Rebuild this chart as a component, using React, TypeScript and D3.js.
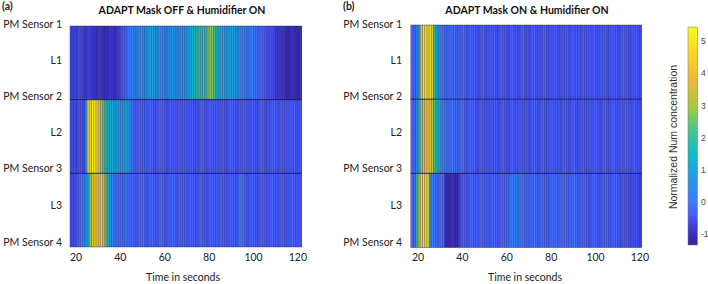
import React from "react";
import * as d3 from "d3";

const colorValues = [-1.35,-0.9,-0.4,0,0.5,1,1.6,2.3,3,3.8,4.5,5.5];
const colorStops = ["#35249a","#3c34c8","#4a5cff","#3c7cff","#2a8cf0","#1ca6e0","#14bcc0","#4cc685","#a8c93f","#eab935","#f8d028","#f9fb15"];
const layers = ["L1","L2","L3"];
const sensors = ["PM Sensor 1","PM Sensor 2","PM Sensor 3","PM Sensor 4"];
const xTicks = [20,40,60,80,100,120];
const cbTicks = [-1,0,1,2,3,4,5];
const firstSecond = 17;

const a1 = [-0.6,-0.7,-0.6,-0.7,-0.6,-0.7,-0.7,-0.8,-0.7,-0.8,-0.9,-0.8,-0.9,-0.9,-1.0,-1.0,-0.9,-1.0,-0.9,-0.9,-0.9,-0.8,-0.8,-0.6,-0.3,-0.2,0.0,0.1,0.4,0.3,0.5,0.6,0.8,0.6,0.9,1.0,0.9,1.0,0.9,0.7,0.8,0.6,0.6,0.5,0.7,0.6,0.7,0.9,0.7,0.6,0.7,0.8,0.9,1.0,1.1,1.4,1.7,1.9,2.0,1.9,2.1,2.0,2.7,2.9,2.7,2.2,1.6,1.3,1.2,1.1,1.0,1.1,1.0,0.9,0.9,0.8,0.7,0.5,0.5,0.3,0.2,0.1,0.1,0.0,-0.1,-0.2,-0.3,-0.4,-0.4,-0.5,-0.5,-0.6,-0.7,-0.8,-0.8,-0.9,-0.9,-1.0,-1.0,-1.1,-1.1,-1.1,-1.1,-1.1,-1.1];
const a2 = [-0.5,-0.6,-0.5,-0.6,-0.5,-0.5,-0.6,0.8,4.4,4.6,5.3,5.4,4.9,4.1,3.0,2.4,1.9,1.3,1.2,1.1,1.1,1.0,0.9,0.7,1.0,1.5,0.8,0.1,-0.2,-0.3,-0.2,-0.3,-0.4,-0.3,-0.2,-0.3,-0.3,-0.4,-0.5,-0.4,-0.3,-0.4,-0.3,-0.4,-0.5,-0.4,-0.5,-0.3,-0.4,-0.4,-0.5,-0.4,-0.3,-0.4,-0.5,-0.4,-0.5,-0.4,-0.5,-0.3,-0.4,-0.5,-0.4,-0.4,-0.5,-0.4,-0.3,-0.4,-0.5,-0.4,-0.5,-0.4,-0.3,-0.4,-0.4,-0.5,-0.4,-0.5,-0.4,-0.3,-0.4,-0.5,-0.4,-0.4,-0.5,-0.4,-0.3,-0.4,-0.5,-0.4,-0.5,-0.4,-0.3,-0.4,-0.5,-0.4,-0.5,-0.4,-0.3,-0.4,-0.5,-0.4,-0.5,-0.4,-0.4];
const a3 = [-0.5,-0.6,-0.5,-0.4,-0.3,0.0,0.5,0.9,1.0,2.8,4.3,4.6,4.4,4.2,4.6,3.8,2.4,1.4,0.5,0.2,0.0,-0.1,-0.2,-0.3,-0.2,0.3,-0.2,-0.3,-0.2,-0.3,-0.4,-0.3,-0.2,0.0,-0.3,-0.4,-0.3,-0.2,-0.3,-0.4,-0.3,-0.1,-0.3,-0.4,-0.3,-0.4,-0.3,-0.1,-0.4,-0.3,-0.4,-0.3,-0.2,-0.4,-0.3,-0.4,-0.3,-0.4,-0.3,-0.2,-0.4,-0.3,-0.4,-0.3,-0.4,-0.3,-0.2,-0.4,-0.3,-0.4,-0.3,-0.4,-0.3,-0.4,-0.3,-0.4,0.0,0.2,-0.1,-0.3,-0.4,-0.3,-0.4,-0.3,-0.4,-0.4,-0.3,-0.4,-0.3,-0.4,-0.4,-0.3,-0.4,-0.3,-0.4,-0.3,-0.4,-0.4,-0.3,-0.4,-0.3,-0.4,-0.4,-0.3,-0.4];
const b1 = [-0.4,-0.2,0.3,1.0,3.9,4.9,5.3,4.7,5.2,3.9,1.8,1.5,0.5,0.0,-0.1,-0.2,-0.1,-0.2,-0.3,-0.1,-0.3,-0.2,-0.4,-0.1,-0.3,-0.4,-0.2,-0.4,-0.3,-0.4,-0.5,-0.4,-0.3,-0.5,-0.4,-0.3,-0.5,-0.4,-0.5,-0.4,-0.3,-0.5,-0.4,-0.5,-0.4,-0.3,-0.5,-0.4,-0.5,-0.4,-0.3,-0.5,-0.4,-0.5,-0.4,-0.3,-0.5,-0.4,-0.5,-0.4,-0.3,-0.5,-0.4,-0.5,-0.4,-0.3,-0.5,-0.4,-0.5,-0.4,-0.3,-0.5,-0.4,-0.5,-0.4,-0.3,-0.5,-0.4,-0.5,-0.4,-0.3,-0.5,-0.4,-0.5,-0.4,-0.3,-0.5,-0.4,-0.5,-0.4,-0.3,-0.5,-0.4,-0.5,-0.4,-0.3,-0.5,-0.4,-0.5,-0.4,-0.5,-0.4,-0.5,-0.4,-0.5];
const b2 = [-0.4,-0.2,0.4,1.6,2.8,3.8,4.3,4.5,4.2,3.3,2.2,1.8,1.4,0.6,0.2,0.0,-0.1,-0.2,0.1,-0.2,-0.1,-0.3,-0.1,-0.2,-0.4,-0.3,-0.2,-0.4,-0.3,-0.5,-0.4,-0.3,-0.5,-0.4,-0.3,-0.4,-0.5,-0.4,-0.3,-0.5,-0.4,-0.3,-0.4,-0.5,-0.4,-0.3,-0.5,-0.4,-0.3,-0.4,-0.5,-0.4,-0.3,-0.5,-0.4,-0.3,-0.4,-0.5,-0.4,-0.3,-0.5,-0.4,-0.3,-0.4,-0.5,-0.4,-0.3,-0.5,-0.4,-0.3,-0.4,-0.5,-0.4,-0.3,-0.5,-0.4,-0.3,-0.4,-0.5,-0.4,-0.3,-0.5,-0.4,-0.3,-0.4,-0.5,-0.4,-0.3,-0.5,-0.4,-0.3,-0.4,-0.5,-0.4,-0.3,-0.5,-0.4,-0.3,-0.4,-0.5,-0.4,-0.5,-0.4,-0.5,-0.4];
const b3 = [-0.3,-0.2,2.0,2.9,4.6,4.8,4.9,4.9,0.6,0.1,0.0,-0.1,-0.2,-0.1,-0.3,-1.0,-1.1,-1.2,-1.1,-1.2,-1.1,-0.8,-0.5,-0.4,-0.3,-0.4,-0.2,-0.3,-0.4,-0.2,-0.3,-0.2,-0.4,-0.3,-0.2,-0.4,-0.3,-0.2,-0.3,-0.4,-0.2,-0.3,-0.2,-0.1,0.0,0.1,0.2,0.3,0.2,0.1,-0.1,-0.2,-0.1,-0.2,-0.3,-0.1,-0.2,-0.3,-0.1,-0.3,-0.2,-0.3,-0.1,-0.2,-0.3,-0.1,-0.2,-0.1,-0.3,-0.1,-0.2,-0.1,-0.3,-0.1,-0.2,-0.3,-0.2,-0.3,-0.2,-0.3,-0.4,-0.3,-0.2,-0.3,-0.4,-0.3,-0.4,-0.3,-0.2,-0.4,-0.3,-0.4,-0.3,-0.4,-0.5,-0.4,-0.5,-0.4,-0.5,-0.5,-0.6,-0.5,-0.6,-0.6,-0.6];

const color = d3.scaleLinear<string>().domain(colorValues).range(colorStops).interpolate(d3.interpolateRgb);

const font = "Lato, 'Open Sans', sans-serif";

function Panel({ rows, left, right, top, bottom, d0, d1, title, titleX, tag, tagX, labelRight, labelX, sensorY, layerY }: any) {
  const x = d3.scaleLinear().domain([d0, d1]).range([left, right]);
  const y = d3.scaleBand<string>().domain(layers).range([top, bottom]);
  const seconds = d3.range(firstSecond, Math.ceil(d1));
  return (
    <g>
      <text x={tagX} y={10} fontSize={10.5} fontWeight={700} fontFamily={font} fill="#222">{tag}</text>
      <text x={titleX} y={14} fontSize={10.5} fontWeight={700} fontFamily={font} fill="#111" textAnchor="middle">{title}</text>
      <g>
        {rows.map((row: number[], r: number) => row.map((v, i) => {
          const x0 = Math.max(left, x(firstSecond + i));
          const x1 = Math.min(right, x(firstSecond + i + 1));
          return x1 > x0 ? <rect key={r + "-" + i} x={x0} y={y(layers[r])} width={x1 - x0 + 0.2} height={y.bandwidth()} fill={color(v)} /> : null;
        }))}
        {seconds.filter(s => x(s) > left).map(s => (
          <line key={s} x1={x(s)} x2={x(s)} y1={top} y2={bottom} stroke="#10106a" strokeOpacity={0.7} strokeWidth={0.6} />
        ))}
        {layers.slice(1).map(l => (
          <line key={l} x1={left} x2={right} y1={y(l)} y2={y(l)} stroke="#101040" strokeOpacity={0.85} strokeWidth={1} />
        ))}
        <rect x={left} y={top} width={right - left} height={bottom - top} fill="none" stroke="#26264a" strokeOpacity={0.6} strokeWidth={0.7} />
      </g>
      {sensors.map((s, i) => (
        <text key={s} x={labelRight} y={sensorY[i]} fontSize={10.5} fontFamily={font} fill="#222" textAnchor="end" dominantBaseline="middle">{s}</text>
      ))}
      {layers.map((l, i) => (
        <text key={l} x={labelRight} y={layerY[i]} fontSize={10.5} fontFamily={font} fill="#222" textAnchor="end" dominantBaseline="middle">{l}</text>
      ))}
      {xTicks.map(t => (
        <text key={t} x={x(t)} y={258} fontSize={10.5} fontFamily={font} fill="#222" textAnchor="middle" dominantBaseline="middle">{t}</text>
      ))}
      <text x={labelX} y={278} fontSize={10.5} fontFamily={font} fill="#222" textAnchor="middle" dominantBaseline="middle">Time in seconds</text>
    </g>
  );
}

export default function App() {
  const cbY = d3.scaleLinear().domain([-1, 5]).range([235, 42]);
  const cbBottom = 245, cbTop = 27;
  const stops = d3.range(0, 101);
  return (
    <svg width={708} height={284} style={{ position: "absolute", left: 0, top: 0, background: "#fff" }}>
      <defs>
        <linearGradient id="cb" x1="0" x2="0" y1="1" y2="0">
          {stops.map(s => <stop key={s} offset={s + "%"} stopColor={color(-1.35 + (s / 100) * 6.85)} />)}
        </linearGradient>
      </defs>
      <Panel rows={[a1, a2, a3]} left={70} right={301.7} top={26} bottom={247} d0={17.3} d1={121.7}
        title="ADAPT Mask OFF & Humidifier ON" titleX={182} tag="(a)" tagX={2} labelRight={62} labelX={183}
        sensorY={[25, 97, 169, 243]} layerY={[61, 133, 206]} />
      <Panel rows={[b1, b2, b3]} left={410.7} right={641.7} top={25} bottom={247.5} d0={16.7} d1={120.8}
        title="ADAPT Mask ON & Humidifier ON" titleX={527} tag="(b)" tagX={343} labelRight={402} labelX={525}
        sensorY={[25, 97, 169, 243]} layerY={[61, 133, 206]} />
      <rect x={688} y={cbTop} width={9.5} height={cbBottom - cbTop} fill="url(#cb)" stroke="#777" strokeWidth={0.5} />
      {cbTicks.map(t => (
        <text key={t} x={701} y={cbY(t)} fontSize={8.5} fontFamily="'Liberation Sans', sans-serif" fill="#444" dominantBaseline="middle">{t}</text>
      ))}
      <text transform="translate(677,137) rotate(-90)" fontSize={10.5} fontFamily="'Liberation Sans', sans-serif" fill="#333" textAnchor="middle">Normalized Num concentration</text>
    </svg>
  );
}
